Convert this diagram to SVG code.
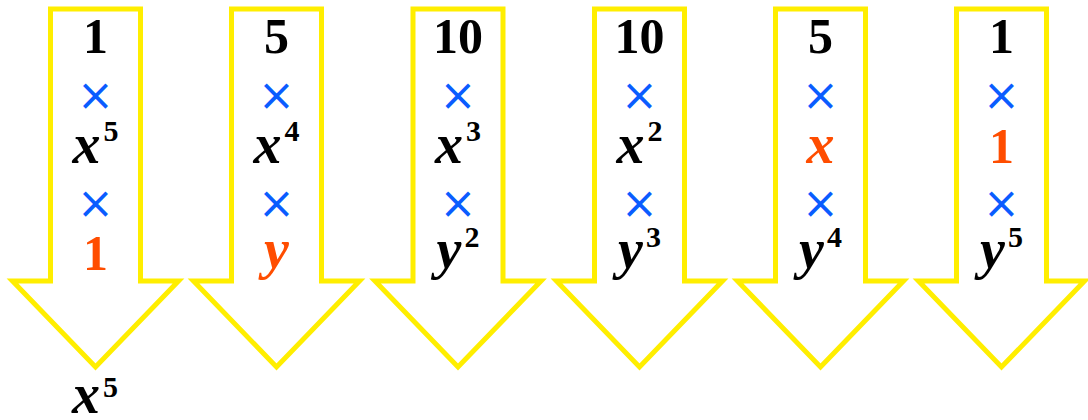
<svg xmlns="http://www.w3.org/2000/svg" width="1088" height="420" viewBox="0 0 1088 420">
<style>
.arrow{fill:#fff;stroke:#FFEE00;stroke-width:5;stroke-linejoin:miter}
.t{font-family:"Liberation Serif","DejaVu Serif",serif;font-weight:bold;font-size:50px;text-anchor:middle;fill:#000}
.v{font-style:italic;font-size:56px}
.s{font-style:normal;font-size:30px}
.r{fill:#FF4D00}
.m{font-family:"DejaVu Sans",sans-serif;font-weight:normal;font-size:44px;text-anchor:middle;fill:#0A5CFF}
</style>
<rect width="1088" height="420" fill="#fff"/>
<defs>
<polygon id="arr" class="arrow" points="-45,9 45,9 45,281 83,281 0,367 -83,281 -45,281"/>
</defs>
<g id="col1" transform="translate(95.5,0)">
<use href="#arr"/>
<text class="t" x="0" y="53">1</text>
<text class="m" x="0" y="110">×</text>
<text class="t" x="0" y="163"><tspan class="v">x</tspan><tspan class="s" dx="3" dy="-22">5</tspan></text>
<text class="m" x="0" y="218">×</text>
<text class="t r" x="0" y="270">1</text>
</g>
<g id="col2" transform="translate(276.5,0)">
<use href="#arr"/>
<text class="t" x="0" y="53">5</text>
<text class="m" x="0" y="110">×</text>
<text class="t" x="0" y="163"><tspan class="v">x</tspan><tspan class="s" dx="3" dy="-22">4</tspan></text>
<text class="m" x="0" y="218">×</text>
<text class="t r v" x="0" y="268">y</text>
</g>
<g id="col3" transform="translate(458,0)">
<use href="#arr"/>
<text class="t" x="0" y="53">10</text>
<text class="m" x="0" y="110">×</text>
<text class="t" x="0" y="163"><tspan class="v">x</tspan><tspan class="s" dx="3" dy="-22">3</tspan></text>
<text class="m" x="0" y="218">×</text>
<text class="t" x="0" y="268"><tspan class="v">y</tspan><tspan class="s" dx="3" dy="-21">2</tspan></text>
</g>
<g id="col4" transform="translate(639.5,0)">
<use href="#arr"/>
<text class="t" x="0" y="53">10</text>
<text class="m" x="0" y="110">×</text>
<text class="t" x="0" y="163"><tspan class="v">x</tspan><tspan class="s" dx="3" dy="-22">2</tspan></text>
<text class="m" x="0" y="218">×</text>
<text class="t" x="0" y="268"><tspan class="v">y</tspan><tspan class="s" dx="3" dy="-21">3</tspan></text>
</g>
<g id="col5" transform="translate(820.5,0)">
<use href="#arr"/>
<text class="t" x="0" y="53">5</text>
<text class="m" x="0" y="110">×</text>
<text class="t r v" x="0" y="163">x</text>
<text class="m" x="0" y="218">×</text>
<text class="t" x="0" y="268"><tspan class="v">y</tspan><tspan class="s" dx="3" dy="-21">4</tspan></text>
</g>
<g id="col6" transform="translate(1001.5,0)">
<use href="#arr"/>
<text class="t" x="0" y="53">1</text>
<text class="m" x="0" y="110">×</text>
<text class="t r" x="0" y="163">1</text>
<text class="m" x="0" y="218">×</text>
<text class="t" x="0" y="268"><tspan class="v">y</tspan><tspan class="s" dx="3" dy="-21">5</tspan></text>
</g>
<g id="result">
<text class="t" x="95" y="413"><tspan class="v">x</tspan><tspan class="s" dx="3" dy="-16">5</tspan></text>
</g>
<g id="connectors"/>
</svg>
